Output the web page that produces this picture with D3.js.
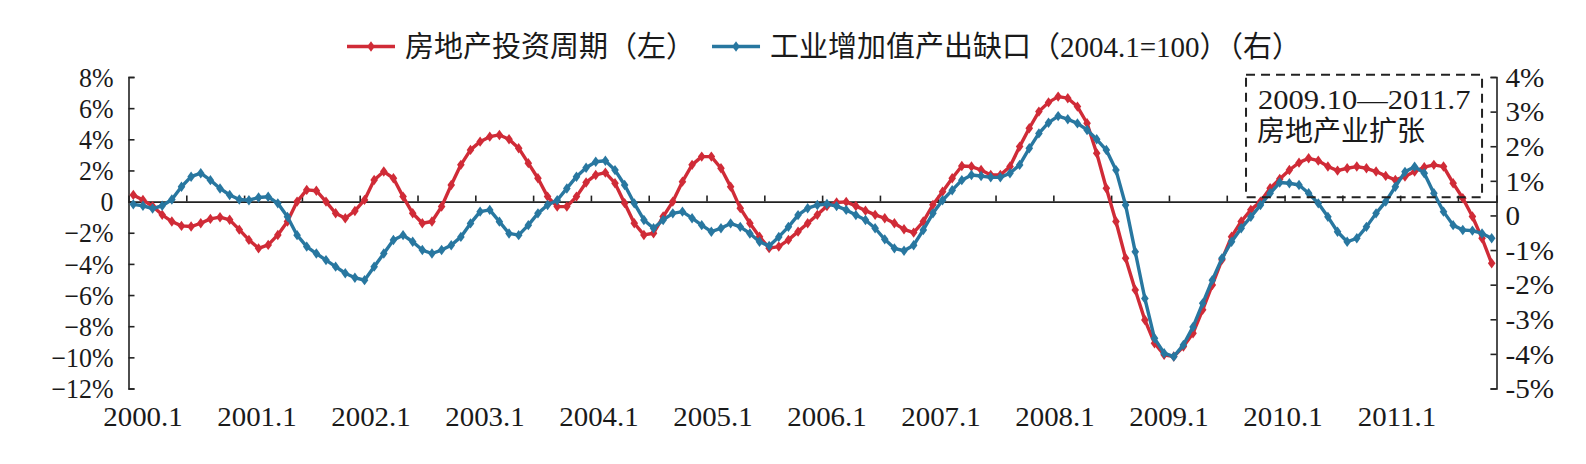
<!DOCTYPE html>
<html>
<head>
<meta charset="utf-8">
<script src="https://cdn.jsdelivr.net/npm/d3@7"></script>
<style>
  body { margin: 0; background: #fff; }
  text { font-family: "Liberation Serif", "Noto Sans CJK SC", serif; fill: #1a1a1a; }
</style>
</head>
<body>
<div id="chart"></div>
<script>
// monthly data 2000.1 - 2011.10
const yearLabels = ["2000.1", "2001.1", "2002.1", "2003.1", "2004.1", "2005.1",
    "2006.1", "2007.1", "2008.1", "2009.1", "2010.1", "2011.1"];

// 房地产投资周期 (left axis, %)
const realEstate = [
    0.43, 0.1, -0.3, -0.85, -1.28, -1.56, -1.6, -1.39, -1.11, -1.0, -1.17, -1.8,
    -2.46, -3.0, -2.78, -2.14, -1.28, 0, 0.75, 0.7, 0, -0.75, -1.07, -0.6,
    0.11, 1.39, 1.93, 1.5, 0.32, -0.75, -1.39, -1.28, -0.32, 1.07, 2.36, 3.32,
    3.85, 4.17, 4.28, 4.0, 3.43, 2.47, 1.5, 0.32, -0.32, -0.32, 0.32, 1.23,
    1.71, 1.86, 1.18, -0.1, -1.39, -2.14, -2.03, -0.96, 0, 1.28, 2.36, 2.89,
    2.89, 2.14, 0.96, -0.42, -1.39, -2.25, -2.99, -2.89, -2.46, -1.93, -1.39, -0.85,
    -0.28, -0.06, -0.02, -0.28, -0.58, -0.85, -1.07, -1.39, -1.78, -1.99, -1.28, -0.21,
    0.64, 1.5, 2.29, 2.25, 2.03, 1.71, 1.71, 2.25, 3.53, 4.71, 5.78, 6.37,
    6.74, 6.64, 6.1, 5.03, 3.11, 0.86, -1.28, -3.63, -5.67, -7.6, -9.09, -9.84,
    -9.95, -9.31, -8.45, -6.95, -5.35, -3.74, -2.25, -1.28, -0.53, 0, 0.86, 1.45,
    2.03, 2.5, 2.78, 2.63, 2.25, 1.99, 2.14, 2.25, 2.14, 1.93, 1.65, 1.39,
    1.61, 1.93, 2.21, 2.36, 2.25, 1.18, 0.22, -0.96, -2.36, -3.96
];

// 工业增加值产出缺口 (right axis, %)
const outputGap = [
    0.32, 0.28, 0.2, 0.28, 0.46, 0.83, 1.12, 1.22, 1.02, 0.78, 0.59, 0.46,
    0.44, 0.52, 0.54, 0.35, -0.04, -0.57, -0.9, -1.1, -1.29, -1.48, -1.67, -1.8,
    -1.87, -1.48, -1.1, -0.71, -0.57, -0.76, -1.0, -1.1, -1.0, -0.86, -0.62, -0.23,
    0.11, 0.16, -0.18, -0.52, -0.57, -0.28, 0.06, 0.3, 0.44, 0.78, 1.12, 1.38,
    1.55, 1.58, 1.31, 0.88, 0.35, -0.13, -0.37, -0.13, 0.06, 0.11, -0.08, -0.28,
    -0.47, -0.37, -0.23, -0.33, -0.52, -0.76, -0.88, -0.62, -0.33, 0.01, 0.21, 0.3,
    0.33, 0.27, 0.16, 0.01, -0.13, -0.37, -0.69, -0.95, -1.02, -0.86, -0.42, 0.06,
    0.44, 0.73, 1.02, 1.17, 1.14, 1.1, 1.1, 1.22, 1.46, 1.94, 2.37, 2.68,
    2.87, 2.78, 2.66, 2.47, 2.2, 1.89, 1.31, 0.3, -1.05, -2.4, -3.55, -3.98,
    -4.08, -3.74, -3.22, -2.54, -1.87, -1.24, -0.76, -0.37, -0.04, 0.3, 0.64, 0.95,
    0.93, 0.88, 0.64, 0.35, -0.04, -0.47, -0.76, -0.66, -0.33, 0.06, 0.4, 0.83,
    1.26, 1.41, 1.22, 0.64, 0.11, -0.28, -0.42, -0.44, -0.52, -0.66
];

const leftTicks = [8, 6, 4, 2, 0, -2, -4, -6, -8, -10, -12];
const rightTicks = [4, 3, 2, 1, 0, -1, -2, -3, -4, -5];

const seriesNames = ["房地产投资周期（左）", "工业增加值产出缺口（2004.1=100）（右）"];
const boxLines = ["2009.10—2011.7", "房地产业扩张"];
const boxStart = 116, boxEnd = 140.5;   // month index span of the dashed box

const RED = "#d02b37", BLUE = "#2877a0";

const width = 1586, height = 464;
const margin = {top: 77, right: 89.5, bottom: 75.5, left: 128.5};

const svg = d3.select("#chart").append("svg")
    .attr("width", width)
    .attr("height", height);

const n = realEstate.length;
const x = d3.scaleLinear().domain([0, n]).range([margin.left, width - margin.right]);
const yL = d3.scaleLinear().domain([-12, 8]).range([height - margin.bottom, margin.top]);
const yR = d3.scaleLinear().domain([-5, 4]).range([height - margin.bottom, margin.top]);
// year labels are spaced a little tighter than the monthly ticks in the original
const xLab = d3.scaleLinear().domain([0, yearLabels.length - 1]).range([143, 1397]);

// stretch text horizontally like the original's face
function stretch(sel, k) {
    sel.each(function () {
        const len = this.getComputedTextLength();
        d3.select(this).attr("textLength", len * k).attr("lengthAdjust", "spacingAndGlyphs");
    });
}

// left axis
const leftAxis = svg.append("g")
    .attr("transform", `translate(${margin.left},0)`)
    .call(d3.axisRight(yL).tickValues(leftTicks).tickSize(6)
        .tickFormat(d => d === 0 ? "0" : (d < 0 ? "\u2212" + (-d) : d) + "%"));
leftAxis.select(".domain").attr("stroke", "#222").attr("stroke-width", 1.6);
leftAxis.selectAll(".tick line").attr("stroke", "#222").attr("stroke-width", 1.6);
leftAxis.selectAll(".tick text")
    .attr("x", -15).attr("dy", "0.34em")
    .attr("text-anchor", "end")
    .style("font-size", "27px")
    .call(stretch, 0.96);

// right axis
const rightAxis = svg.append("g")
    .attr("transform", `translate(${width - margin.right},0)`)
    .call(d3.axisLeft(yR).tickValues(rightTicks).tickSize(6)
        .tickFormat(d => d === 0 ? "0" : d + "%"));
rightAxis.select(".domain").attr("stroke", "#222").attr("stroke-width", 1.6);
rightAxis.selectAll(".tick line").attr("stroke", "#222").attr("stroke-width", 1.6);
rightAxis.selectAll(".tick text")
    .attr("x", 9).attr("dy", "0.34em")
    .attr("text-anchor", "start")
    .style("font-size", "27px")
    .call(stretch, 1.08);

// zero line with half-year ticks
const zeroAxis = svg.append("g")
    .attr("transform", `translate(0,${yL(0)})`)
    .call(d3.axisTop(x).tickValues(d3.range(6, n, 6)).tickSize(6).tickFormat(""));
zeroAxis.select(".domain").attr("stroke", "#222").attr("stroke-width", 1.6);
zeroAxis.selectAll(".tick line").attr("stroke", "#222").attr("stroke-width", 1.6);

// year labels
svg.append("g").selectAll("text")
    .data(yearLabels)
    .enter().append("text")
    .attr("x", (d, i) => xLab(i))
    .attr("y", 426)
    .attr("text-anchor", "middle")
    .style("font-size", "27px")
    .text(d => d)
    .call(stretch, 1.07);

// series
const diamond = "M0,-5.2L3.8,0L0,5.2L-3.8,0Z";
const series = [
    {values: realEstate, y: yL, color: RED},
    {values: outputGap, y: yR, color: BLUE}
];

series.forEach(s => {
    const line = d3.line()
        .x((d, i) => x(i + 0.5))
        .y(d => s.y(d));

    svg.append("path")
        .datum(s.values)
        .attr("fill", "none")
        .attr("stroke", s.color)
        .attr("stroke-width", 3.4)
        .attr("stroke-linejoin", "round")
        .attr("d", line);

    svg.append("g").selectAll("path")
        .data(s.values)
        .enter().append("path")
        .attr("d", diamond)
        .attr("fill", s.color)
        .attr("transform", (d, i) => `translate(${x(i + 0.5)},${s.y(d)})`);
});

// dashed annotation box
svg.append("rect")
    .attr("x", x(boxStart))
    .attr("y", yL(8.15))
    .attr("width", x(boxEnd) - x(boxStart))
    .attr("height", yL(0.28) - yL(8.15))
    .attr("fill", "none")
    .attr("stroke", "#222")
    .attr("stroke-width", 2)
    .attr("stroke-dasharray", "9,6");

const boxText = svg.append("g");
boxText.append("text")
    .attr("x", x(boxStart) + 12)
    .attr("y", 109)
    .style("font-size", "27px")
    .text(boxLines[0])
    .call(stretch, 1.13);
boxText.append("text")
    .attr("x", x(boxStart) + 11)
    .attr("y", 141)
    .style("font-size", "28px")
    .text(boxLines[1]);

// legend
const legend = svg.append("g").attr("transform", "translate(347,46.5)");
let lx = 0;
seriesNames.forEach((name, i) => {
    const g = legend.append("g").attr("transform", `translate(${lx},0)`);
    g.append("line")
        .attr("x1", 0).attr("x2", 48)
        .attr("stroke", series[i].color)
        .attr("stroke-width", 3.4);
    g.append("path")
        .attr("d", diamond)
        .attr("fill", series[i].color)
        .attr("transform", "translate(24,0)");
    const t = g.append("text")
        .attr("x", 58)
        .attr("dy", "0.36em")
        .style("font-size", "29px")
        .text(name);
    lx += 58 + t.node().getComputedTextLength() + 17;
});
</script>
</body>
</html>
